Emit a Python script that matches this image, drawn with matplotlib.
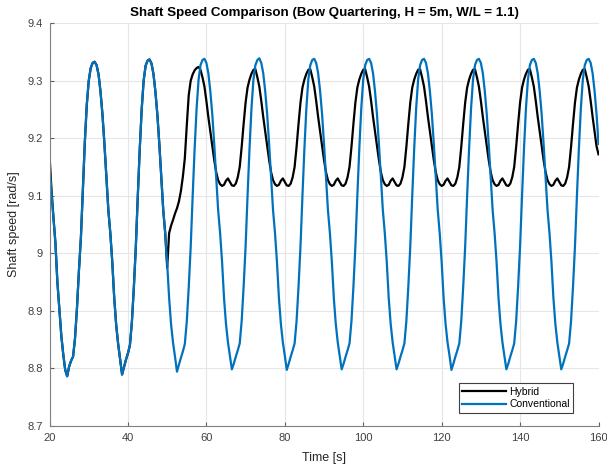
import matplotlib.pyplot as plt
import numpy as np

plt.rcParams['font.family'] = ['Liberation Sans', 'DejaVu Sans']

# time axis, sampled every 0.5 s
time_s = np.arange(20.0, 160.0 + 0.25, 0.5)

# conventional shaft speed [rad/s]
conventional = [
    # 20.0 - 31.0 s
    9.152, 9.105, 9.062, 9.018, 8.950, 8.903, 8.857, 8.824, 8.797, 8.786, 8.803, 8.813,
    8.820, 8.852, 8.905, 8.970, 9.027, 9.110, 9.193, 9.258, 9.300, 9.322, 9.331,
    # 31.5 - 45.0 s
    9.333, 9.327, 9.311, 9.281, 9.241, 9.190, 9.133, 9.075, 9.035, 8.985, 8.922, 8.875, 8.842, 8.815,
    8.789, 8.802, 8.815, 8.826, 8.840, 8.880, 8.940, 9.010, 9.098, 9.180, 9.250, 9.300, 9.326, 9.335,
    # 45.5 - 59.0 s
    9.337, 9.330, 9.312, 9.281, 9.241, 9.190, 9.133, 9.075, 9.035, 8.982, 8.922, 8.876, 8.844, 8.820,
    8.794, 8.806, 8.818, 8.829, 8.842, 8.881, 8.941, 9.011, 9.099, 9.181, 9.251, 9.301, 9.327, 9.336,
    # 59.5 - 73.0 s
    9.338, 9.331, 9.313, 9.282, 9.242, 9.190, 9.133, 9.075, 9.035, 8.985, 8.922, 8.877, 8.845, 8.822,
    8.798, 8.808, 8.820, 8.831, 8.843, 8.882, 8.942, 9.012, 9.100, 9.182, 9.252, 9.302, 9.327, 9.336,
    # 73.5 - 87.0 s
    9.339, 9.331, 9.313, 9.282, 9.242, 9.190, 9.133, 9.075, 9.035, 8.985, 8.922, 8.877, 8.845, 8.822,
    8.797, 8.808, 8.820, 8.831, 8.843, 8.882, 8.942, 9.012, 9.100, 9.182, 9.252, 9.302, 9.327, 9.336,
    # 87.5 - 101.0 s
    9.338, 9.331, 9.313, 9.282, 9.242, 9.190, 9.133, 9.075, 9.035, 8.985, 8.922, 8.877, 8.845, 8.822,
    8.798, 8.808, 8.820, 8.831, 8.843, 8.882, 8.942, 9.012, 9.100, 9.182, 9.252, 9.302, 9.327, 9.336,
    # 101.5 - 115.0 s
    9.338, 9.331, 9.313, 9.282, 9.242, 9.190, 9.133, 9.075, 9.035, 8.985, 8.922, 8.877, 8.845, 8.822,
    8.798, 8.808, 8.820, 8.831, 8.843, 8.882, 8.942, 9.012, 9.100, 9.182, 9.252, 9.302, 9.327, 9.336,
    # 115.5 - 129.0 s
    9.338, 9.331, 9.313, 9.282, 9.242, 9.190, 9.133, 9.075, 9.035, 8.985, 8.922, 8.877, 8.845, 8.822,
    8.797, 8.808, 8.820, 8.831, 8.843, 8.882, 8.942, 9.012, 9.100, 9.182, 9.252, 9.302, 9.327, 9.336,
    # 129.5 - 143.0 s
    9.338, 9.331, 9.313, 9.282, 9.242, 9.190, 9.133, 9.075, 9.035, 8.985, 8.922, 8.877, 8.845, 8.822,
    8.798, 8.808, 8.820, 8.831, 8.843, 8.882, 8.942, 9.012, 9.100, 9.182, 9.252, 9.302, 9.327, 9.336,
    # 143.5 - 157.0 s
    9.338, 9.331, 9.313, 9.282, 9.242, 9.190, 9.133, 9.075, 9.035, 8.985, 8.922, 8.877, 8.845, 8.822,
    8.798, 8.808, 8.820, 8.831, 8.843, 8.882, 8.942, 9.012, 9.100, 9.182, 9.252, 9.302, 9.327, 9.336,
    # 157.5 - 160.0 s
    9.338, 9.331, 9.313, 9.282, 9.242, 9.190,
]

# hybrid shaft speed [rad/s], same as conventional until ~50 s
hybrid = [
    # 20.0 - 31.0 s
    9.170, 9.110, 9.062, 9.018, 8.950, 8.903, 8.857, 8.824, 8.797, 8.786, 8.803, 8.813,
    8.820, 8.852, 8.905, 8.970, 9.027, 9.110, 9.193, 9.258, 9.300, 9.322, 9.331,
    # 31.5 - 45.0 s
    9.333, 9.327, 9.311, 9.281, 9.241, 9.190, 9.133, 9.075, 9.035, 8.985, 8.922, 8.875, 8.842, 8.815,
    8.789, 8.802, 8.815, 8.826, 8.840, 8.880, 8.940, 9.010, 9.098, 9.180, 9.250, 9.300, 9.326, 9.335,
    # 45.5 - 57.5 s (switch to hybrid mode at ~50 s)
    9.337, 9.330, 9.312, 9.281, 9.241, 9.190, 9.133, 9.075, 9.035, 8.975,
    9.035, 9.048, 9.058, 9.069, 9.078, 9.090, 9.108, 9.133, 9.165, 9.222, 9.275, 9.300, 9.311,
    9.318, 9.322,
    # 58.0 - 71.5 s
    9.324, 9.319, 9.306, 9.290, 9.265, 9.237, 9.212, 9.186, 9.162, 9.141, 9.127, 9.120, 9.117, 9.119,
    9.126, 9.130, 9.124, 9.118, 9.117, 9.121, 9.132, 9.150, 9.185, 9.225, 9.262, 9.288, 9.302, 9.312,
    # 72.0 - 85.5 s
    9.319, 9.320, 9.306, 9.290, 9.265, 9.237, 9.212, 9.186, 9.162, 9.141, 9.127, 9.120, 9.117, 9.119,
    9.126, 9.130, 9.124, 9.118, 9.117, 9.121, 9.132, 9.150, 9.185, 9.225, 9.262, 9.288, 9.302, 9.312,
    # 86.0 - 99.5 s
    9.319, 9.320, 9.306, 9.290, 9.265, 9.237, 9.212, 9.186, 9.162, 9.141, 9.127, 9.120, 9.117, 9.119,
    9.126, 9.130, 9.124, 9.118, 9.117, 9.121, 9.132, 9.150, 9.185, 9.225, 9.262, 9.288, 9.302, 9.312,
    # 100.0 - 113.5 s
    9.319, 9.320, 9.306, 9.290, 9.265, 9.237, 9.212, 9.186, 9.162, 9.141, 9.127, 9.120, 9.117, 9.119,
    9.126, 9.130, 9.124, 9.118, 9.117, 9.121, 9.132, 9.150, 9.185, 9.225, 9.262, 9.288, 9.302, 9.312,
    # 114.0 - 127.5 s
    9.319, 9.320, 9.306, 9.290, 9.265, 9.237, 9.212, 9.186, 9.162, 9.141, 9.127, 9.120, 9.117, 9.119,
    9.126, 9.130, 9.124, 9.118, 9.117, 9.121, 9.132, 9.150, 9.185, 9.225, 9.262, 9.288, 9.302, 9.312,
    # 128.0 - 141.5 s
    9.319, 9.320, 9.306, 9.290, 9.265, 9.237, 9.212, 9.186, 9.162, 9.141, 9.127, 9.120, 9.117, 9.119,
    9.126, 9.130, 9.124, 9.118, 9.117, 9.121, 9.132, 9.150, 9.185, 9.225, 9.262, 9.288, 9.302, 9.312,
    # 142.0 - 155.5 s
    9.319, 9.320, 9.306, 9.290, 9.265, 9.237, 9.212, 9.186, 9.162, 9.141, 9.127, 9.120, 9.117, 9.119,
    9.126, 9.130, 9.124, 9.118, 9.117, 9.121, 9.132, 9.150, 9.185, 9.225, 9.262, 9.288, 9.302, 9.312,
    # 156.0 - 160.0 s
    9.319, 9.320, 9.306, 9.290, 9.265, 9.237, 9.212, 9.186, 9.172,
]

x_ticks = [20, 40, 60, 80, 100, 120, 140, 160]
y_ticks = [8.7, 8.8, 8.9, 9.0, 9.1, 9.2, 9.3, 9.4]
y_tick_labels = ['8.7', '8.8', '8.9', '9', '9.1', '9.2', '9.3', '9.4']

fig = plt.figure(figsize=(6.07, 4.68), dpi=100)
ax = fig.add_axes([0.0816, 0.0904, 0.9044, 0.860])

ax.plot(time_s, hybrid, color='black', linewidth=1.6, label='Hybrid')
ax.plot(time_s, conventional, color='#0072BD', linewidth=1.6, label='Conventional')

ax.set_xlim(20, 160)
ax.set_ylim(8.7, 9.4)
ax.set_xticks(x_ticks)
ax.set_yticks(y_ticks)
ax.set_yticklabels(y_tick_labels)
ax.grid(True, color='#e6e6e6', linewidth=0.8)
ax.set_axisbelow(True)

# matlab style: box off, ticks inside
for side in ['top', 'right']:
    ax.spines[side].set_visible(False)
for side in ['left', 'bottom']:
    ax.spines[side].set_color('#808080')
    ax.spines[side].set_linewidth(0.8)
ax.tick_params(direction='in', length=3, color='#606060', labelsize=8, labelcolor='#404040')
ax.tick_params(axis='x', pad=5)
ax.tick_params(axis='y', pad=5)

ax.set_xlabel('Time [s]', fontsize=9, color='#262626', labelpad=7)
ax.set_ylabel('Shaft speed [rad/s]', fontsize=9, color='#262626', labelpad=5)
ax.set_title('Shaft Speed Comparison (Bow Quartering, H = 5m, W/L = 1.1)',
             fontsize=9.6, fontweight='bold', color='black', pad=5)

leg = ax.legend(loc='lower right', bbox_to_anchor=(0.954, 0.032), borderaxespad=0,
                fontsize=7.5, fancybox=False, framealpha=1, edgecolor='#404040',
                handlelength=4.2, handletextpad=0.3, borderpad=0.35, labelspacing=0.2)
leg.get_frame().set_linewidth(0.8)

fig.savefig('out.png', dpi=100)
